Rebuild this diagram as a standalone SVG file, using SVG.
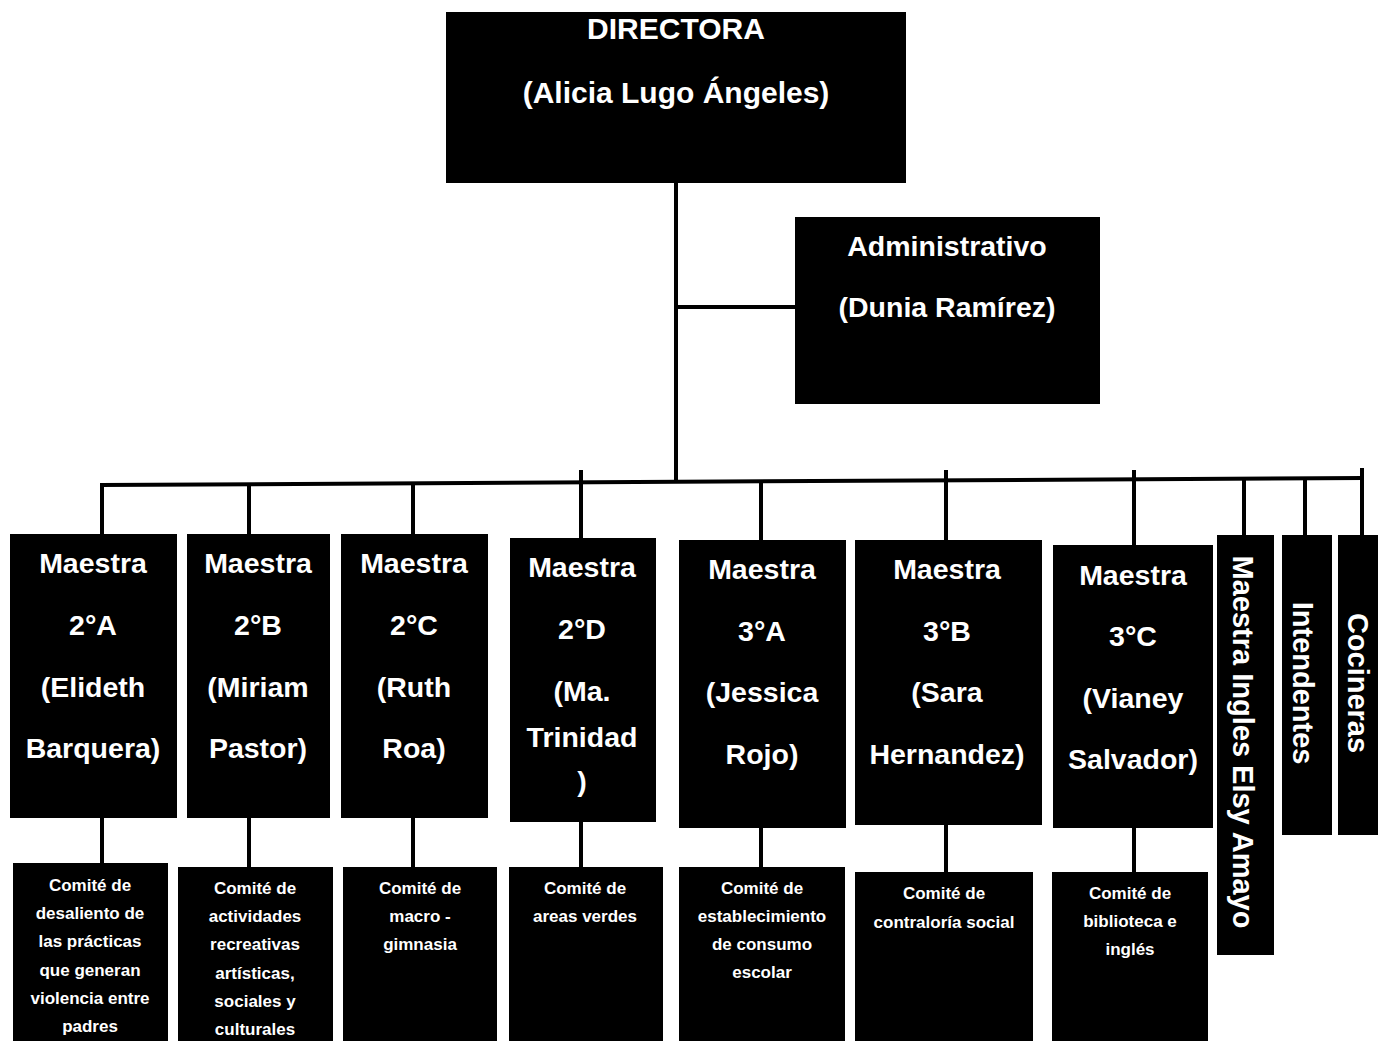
<svg xmlns="http://www.w3.org/2000/svg" width="1378" height="1041" viewBox="0 0 1378 1041">
<style>
.box{fill:#000;}
.t{fill:#fff;font-family:"Liberation Sans",Arial,sans-serif;font-weight:bold;text-anchor:middle;}
.big{font-size:30px;}
.m{font-size:28.5px;}
.c{font-size:17px;}
.v{font-size:29px;dominant-baseline:central;}
.ln{stroke:#000;stroke-width:4;fill:none;}
</style>
<rect width="1378" height="1041" fill="#fff"/>
<g id="connectors">
<line class="ln" x1="676" y1="183" x2="676" y2="482"/>
<line class="ln" x1="676" y1="307" x2="796" y2="307" stroke-width="5"/>
<line class="ln" x1="100" y1="485" x2="1364" y2="478" stroke-width="5"/>
<line class="ln" x1="102" y1="484" x2="102" y2="535"/>
<line class="ln" x1="249" y1="484" x2="249" y2="535"/>
<line class="ln" x1="413" y1="483" x2="413" y2="535"/>
<line class="ln" x1="581" y1="470" x2="581" y2="539"/>
<line class="ln" x1="761" y1="481" x2="761" y2="541"/>
<line class="ln" x1="946" y1="470" x2="946" y2="541"/>
<line class="ln" x1="1134" y1="470" x2="1134" y2="546"/>
<line class="ln" x1="1244" y1="479" x2="1244" y2="536"/>
<line class="ln" x1="1305" y1="479" x2="1305" y2="536"/>
<line class="ln" x1="1362" y1="468" x2="1362" y2="536"/>
<line class="ln" x1="102" y1="817" x2="102" y2="864"/>
<line class="ln" x1="249" y1="817" x2="249" y2="868"/>
<line class="ln" x1="413" y1="817" x2="413" y2="868"/>
<line class="ln" x1="581" y1="821" x2="581" y2="868"/>
<line class="ln" x1="761" y1="827" x2="761" y2="868"/>
<line class="ln" x1="946" y1="824" x2="946" y2="873"/>
<line class="ln" x1="1134" y1="827" x2="1134" y2="873"/>
</g>
<g id="directora">
<rect class="box" x="446" y="12" width="460" height="171"/>
<text class="t big" x="676" y="39">DIRECTORA</text>
<text class="t big" x="676" y="103">(Alicia Lugo Ángeles)</text>
</g>
<g id="administrativo">
<rect class="box" x="795" y="217" width="305" height="187"/>
<text class="t m" x="947" y="256">Administrativo</text>
<text class="t m" x="947" y="317">(Dunia Ramírez)</text>
</g>
<g id="maestra2A">
<rect class="box" x="10" y="534" width="167" height="284"/>
<text class="t m" x="93" y="573">Maestra</text>
<text class="t m" x="93" y="635">2°A</text>
<text class="t m" x="93" y="697">(Elideth</text>
<text class="t m" x="93" y="758">Barquera)</text>
</g>
<g id="maestra2B">
<rect class="box" x="187" y="534" width="143" height="284"/>
<text class="t m" x="258" y="573">Maestra</text>
<text class="t m" x="258" y="635">2°B</text>
<text class="t m" x="258" y="697">(Miriam</text>
<text class="t m" x="258" y="758">Pastor)</text>
</g>
<g id="maestra2C">
<rect class="box" x="341" y="534" width="147" height="284"/>
<text class="t m" x="414" y="573">Maestra</text>
<text class="t m" x="414" y="635">2°C</text>
<text class="t m" x="414" y="697">(Ruth</text>
<text class="t m" x="414" y="758">Roa)</text>
</g>
<g id="maestra2D">
<rect class="box" x="510" y="538" width="146" height="284"/>
<text class="t m" x="582" y="577">Maestra</text>
<text class="t m" x="582" y="639">2°D</text>
<text class="t m" x="582" y="701">(Ma.</text>
<text class="t m" x="582" y="747">Trinidad</text>
<text class="t m" x="582" y="791">)</text>
</g>
<g id="maestra3A">
<rect class="box" x="679" y="540" width="167" height="288"/>
<text class="t m" x="762" y="579">Maestra</text>
<text class="t m" x="762" y="641">3°A</text>
<text class="t m" x="762" y="702">(Jessica</text>
<text class="t m" x="762" y="764">Rojo)</text>
</g>
<g id="maestra3B">
<rect class="box" x="855" y="540" width="187" height="285"/>
<text class="t m" x="947" y="579">Maestra</text>
<text class="t m" x="947" y="641">3°B</text>
<text class="t m" x="947" y="702">(Sara</text>
<text class="t m" x="947" y="764">Hernandez)</text>
</g>
<g id="maestra3C">
<rect class="box" x="1053" y="545" width="160" height="283"/>
<text class="t m" x="1133" y="585">Maestra</text>
<text class="t m" x="1133" y="646">3°C</text>
<text class="t m" x="1133" y="708">(Vianey</text>
<text class="t m" x="1133" y="769">Salvador)</text>
</g>
<g id="maestraIngles">
<rect class="box" x="1217" y="535" width="57" height="420"/>
<text class="t v" transform="translate(1243,742) rotate(90)">Maestra Ingles Elsy Amayo</text>
</g>
<g id="intendentes">
<rect class="box" x="1282" y="535" width="50" height="300"/>
<text class="t v" transform="translate(1303,683) rotate(90)">Intendentes</text>
</g>
<g id="cocineras">
<rect class="box" x="1338" y="535" width="40" height="300"/>
<text class="t v" transform="translate(1358,683) rotate(90)">Cocineras</text>
</g>
<g id="comite2A">
<rect class="box" x="13" y="863" width="155" height="178"/>
<text class="t c" x="90" y="891">Comité de</text>
<text class="t c" x="90" y="919">desaliento de</text>
<text class="t c" x="90" y="947">las prácticas</text>
<text class="t c" x="90" y="976">que generan</text>
<text class="t c" x="90" y="1004">violencia entre</text>
<text class="t c" x="90" y="1032">padres</text>
</g>
<g id="comite2B">
<rect class="box" x="178" y="867" width="155" height="174"/>
<text class="t c" x="255" y="894">Comité de</text>
<text class="t c" x="255" y="922">actividades</text>
<text class="t c" x="255" y="950">recreativas</text>
<text class="t c" x="255" y="979">artísticas,</text>
<text class="t c" x="255" y="1007">sociales y</text>
<text class="t c" x="255" y="1035">culturales</text>
</g>
<g id="comite2C">
<rect class="box" x="343" y="867" width="154" height="174"/>
<text class="t c" x="420" y="894">Comité de</text>
<text class="t c" x="420" y="922">macro -</text>
<text class="t c" x="420" y="950">gimnasia</text>
</g>
<g id="comite2D">
<rect class="box" x="509" y="867" width="154" height="174"/>
<text class="t c" x="585" y="894">Comité de</text>
<text class="t c" x="585" y="922">areas verdes</text>
</g>
<g id="comite3A">
<rect class="box" x="679" y="867" width="166" height="174"/>
<text class="t c" x="762" y="894">Comité de</text>
<text class="t c" x="762" y="922">establecimiento</text>
<text class="t c" x="762" y="950">de consumo</text>
<text class="t c" x="762" y="978">escolar</text>
</g>
<g id="comite3B">
<rect class="box" x="855" y="872" width="178" height="169"/>
<text class="t c" x="944" y="899">Comité de</text>
<text class="t c" x="944" y="928">contraloría social</text>
</g>
<g id="comite3C">
<rect class="box" x="1052" y="872" width="156" height="169"/>
<text class="t c" x="1130" y="899">Comité de</text>
<text class="t c" x="1130" y="927">biblioteca e</text>
<text class="t c" x="1130" y="955">inglés</text>
</g>
</svg>
